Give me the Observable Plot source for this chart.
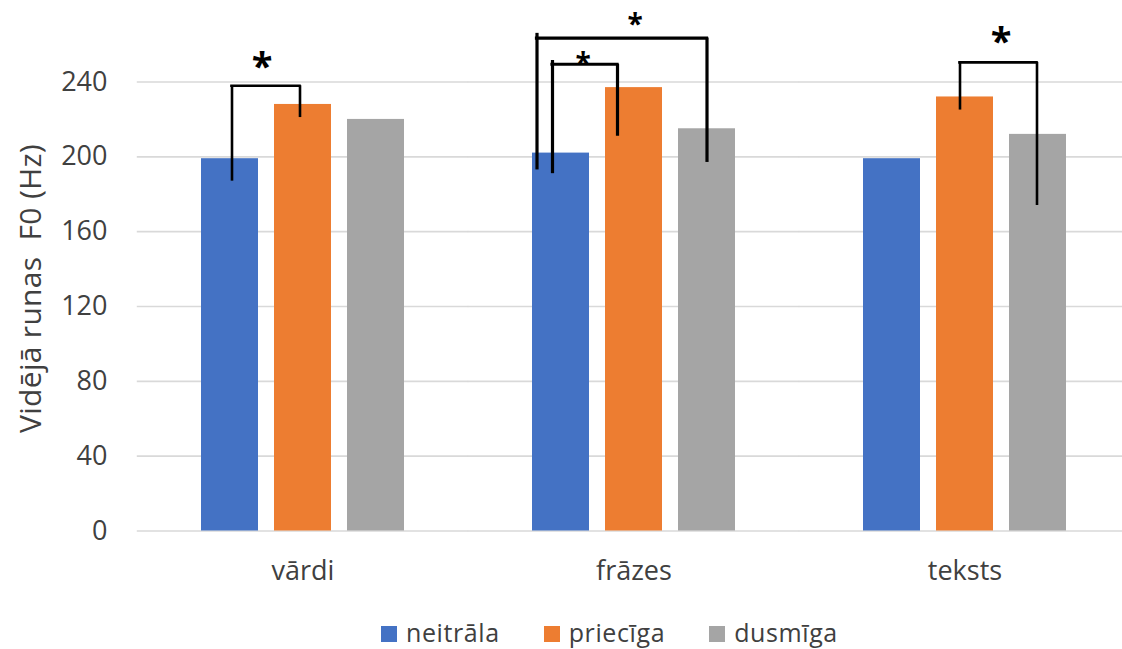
<!DOCTYPE html>
<html><head><meta charset="utf-8">
<script src="https://cdn.jsdelivr.net/npm/d3@7"></script>
<script src="https://cdn.jsdelivr.net/npm/@observablehq/plot@0.6"></script>
<style>
body{margin:0;background:#fff;font-family:"Open Sans",sans-serif;overflow:hidden;width:1122px;height:649px}
#legend{position:absolute;left:381px;top:615px;display:flex;align-items:center;font-size:25px;color:#404040;font-family:"Open Sans",sans-serif;letter-spacing:0.6px}
#legend .item{display:flex;align-items:center;margin-right:44px}
#legend .sw{width:16px;height:16px;margin-right:9px;margin-top:4px}
</style></head><body>
<div id="chart"></div><div id="legend"></div>
<script>
// ---- data ----
const categories = ["vārdi", "frāzes", "teksts"];
const series = ["neitrāla", "priecīga", "dusmīga"];
const neitrala = [199, 202, 199];
const priecIga = [228, 237, 232];
const dusmiga = [220, 215, 212];
const yTicks = [0, 40, 80, 120, 160, 200, 240];
const yLabel = "Vidējā runas  F0 (Hz)";

// significance brackets
const bracketGroup = ["vārdi", "frāzes", "frāzes", "teksts"];
const bracketFrom = ["neitrāla", "neitrāla", "neitrāla", "priecīga"];
const bracketTo = ["priecīga", "dusmīga", "priecīga", "dusmīga"];
const bracketFromLow = [187, 193, 191, 225];
const bracketFromHigh = [238, 266, 251.5, 250.5];
const bracketTop = [238, 263.5, 249.5, 250.5];
const bracketToLow = [221, 197, 211, 174];
const starY = [252, 274, 253, 265.5];
const starText = ["*", "*", "*", "*"];

// ---- styles (pixel nudges, sizes) ----
const colors = ["#4472C4", "#ED7D31", "#A5A5A5"];
const legNudgeFrom = [2, -24, -8.5, -5];
const legNudgeTo = [-3, 0, -16.5, -1];
const starNudge = [32, 74, 22, 36];
const starSize = [38, 28, 28, 38];
const lineW = [2.6, 3.2, 3.2, 2.6];
const halfBar = 28.5;

const valuesBySeries = [neitrala, priecIga, dusmiga];
const rows = categories.flatMap((c, i) => series.map((s, j) => ({group: c, series: s, value: valuesBySeries[j][i]})));

const bracketMarks = [];
bracketGroup.forEach((g, i) => {
  const fxv = () => g;
  bracketMarks.push(
    Plot.ruleX([i], {fx: fxv, x: () => bracketFrom[i], y1: () => bracketFromLow[i], y2: () => bracketFromHigh[i], dx: legNudgeFrom[i], stroke: "#000", strokeWidth: lineW[i]}),
    Plot.ruleX([i], {fx: fxv, x: () => bracketTo[i], y1: () => bracketToLow[i], y2: () => bracketTop[i], dx: legNudgeTo[i], stroke: "#000", strokeWidth: lineW[i]}),
    Plot.ruleY([i], {fx: fxv, x1: () => bracketFrom[i], x2: () => bracketTo[i], y: () => bracketTop[i], insetLeft: halfBar + legNudgeFrom[i] - lineW[i] / 2, insetRight: halfBar - legNudgeTo[i] - lineW[i] / 2, stroke: "#000", strokeWidth: lineW[i]}),
    Plot.text([starText[i]], {fx: fxv, x: () => bracketFrom[i], y: () => starY[i], text: d => d, dx: starNudge[i], dy: 0.22 * starSize[i], fontSize: starSize[i], fontWeight: "bold", fill: "#000"})
  );
});

const chart = Plot.plot({
  width: 1122, height: 600,
  marginTop: 81.5, marginBottom: 69.5, marginLeft: 136, marginRight: -8,
  style: {fontFamily: "Open Sans", color: "#404040", background: "#fff", fontSize: "27px", overflow: "visible"},
  fx: {domain: categories, paddingInner: 0.3876, paddingOuter: 0.194, label: null},
  x: {domain: series, paddingInner: 0.2192, paddingOuter: 0, axis: null},
  y: {domain: [0, 240], axis: null},
  color: {domain: series, range: colors},
  marks: [
    Plot.ruleY(yTicks, {stroke: "#d9d9d9", strokeWidth: 1.6, insetLeft: -64.2, insetRight: -64.2}),
    Plot.barY(rows, {fx: "group", x: "series", y: "value", fill: "series"}),
    ...bracketMarks,
    Plot.axisFx({anchor: "bottom", tickSize: 0, tickPadding: 30, label: null, fill: "#404040"}),
    Plot.axisY({ticks: yTicks, tickSize: 0, tickPadding: 94, label: null, fill: "#404040"}),
    Plot.text([yLabel], {fx: () => categories[0], frameAnchor: "left", textAnchor: "middle", rotate: -90, dx: -170, dy: -18, fontSize: 30, fill: "#404040", text: d => d})
  ]
});
d3.select(chart).selectAll("text").filter(function() { return this.textContent === yLabel; }).attr("letter-spacing", "0.3px");
document.getElementById("chart").appendChild(chart);

const lg = document.getElementById("legend");
series.forEach((s, i) => {
  const it = document.createElement("div"); it.className = "item";
  const sw = document.createElement("div"); sw.className = "sw"; sw.style.background = colors[i];
  const t = document.createElement("span"); t.textContent = s;
  it.appendChild(sw); it.appendChild(t); lg.appendChild(it);
});
</script></body></html>
